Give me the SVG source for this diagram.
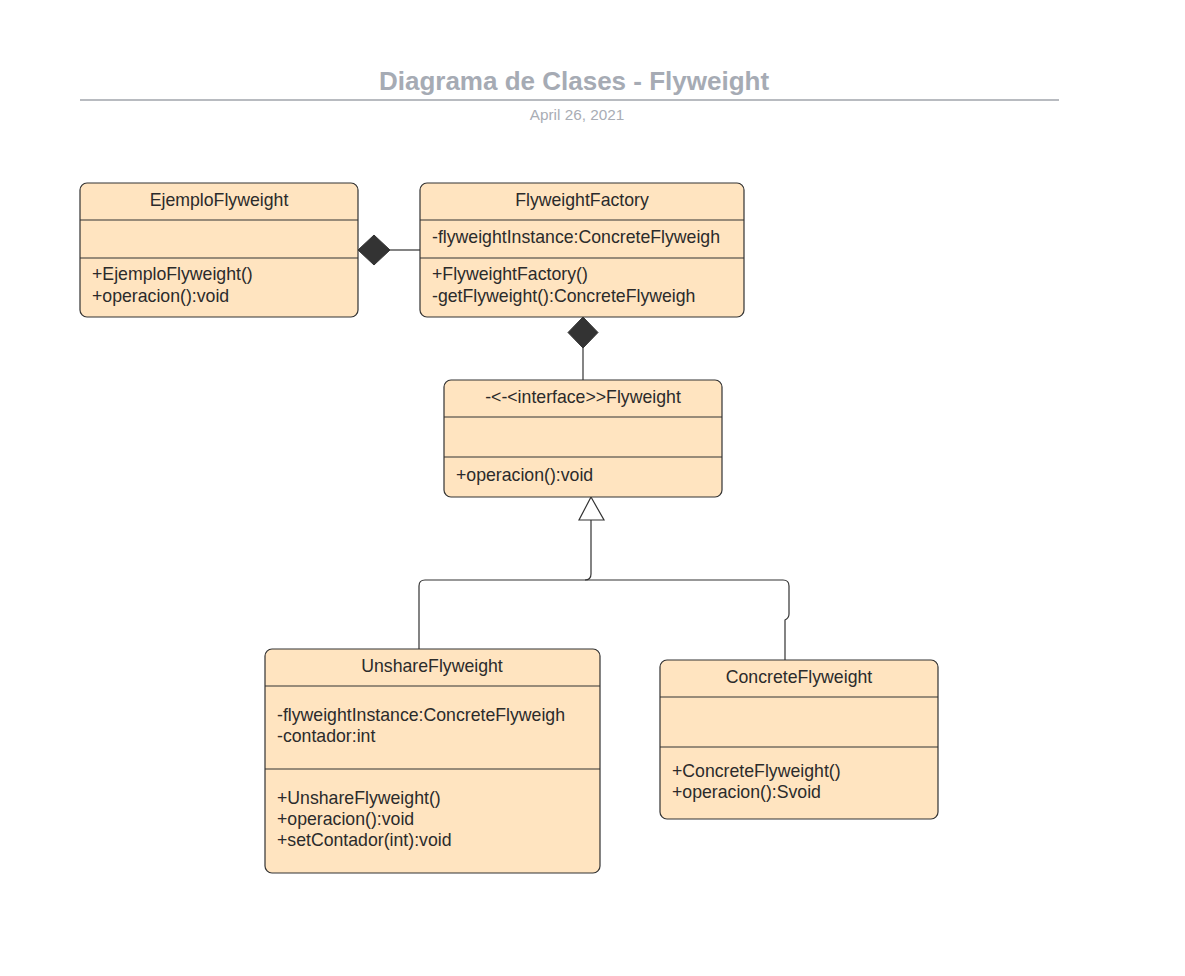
<svg xmlns="http://www.w3.org/2000/svg" width="1185" height="976" viewBox="0 0 1185 976">
<style>
.box{fill:#ffe4c0;stroke:#333;stroke-width:1.2}
.div{stroke:#333;stroke-width:1.2}
.t{font-family:"Liberation Sans",Arial,sans-serif;font-size:17.7px;fill:#2b2b2b}
.c{text-anchor:middle}
.ln{fill:none;stroke:#333;stroke-width:1.2}
</style>
<rect width="1185" height="976" fill="#fff"/>
<g id="header">
<text x="574" y="90" text-anchor="middle" font-family="Liberation Sans,Arial,sans-serif" font-weight="bold" font-size="26" fill="#a6abb4">Diagrama de Clases - Flyweight</text>
<line x1="80" y1="100" x2="1059" y2="100" stroke="#a0a4ab" stroke-width="1.6"/>
<text x="577" y="120" text-anchor="middle" font-family="Liberation Sans,Arial,sans-serif" font-size="15.3" fill="#a9adb5">April 26, 2021</text>
</g>
<g id="connectors">
<line class="ln" x1="390" y1="250" x2="420" y2="250"/>
<polygon points="358,250 374,235 390,250 374,265" fill="#333" stroke="#333"/>
<line class="ln" x1="583" y1="348" x2="583" y2="380"/>
<polygon points="583,317 598,332.5 583,348 568,332.5" fill="#333" stroke="#333"/>
<path class="ln" d="M591,520 V574 Q591,580 585,580 H425 Q419,580 419,586 V649"/>
<path class="ln" d="M585,580 H783 Q789,580 789,586 V614 Q789,618 785,620 V660"/>
<polygon points="591,497 604,520 579,520" fill="#fff" stroke="#333" stroke-width="1.2"/>
</g>
<g id="EjemploFlyweight">
<rect class="box" x="80" y="183" width="278" height="134" rx="7"/>
<line class="div" x1="80" y1="220" x2="358" y2="220"/>
<line class="div" x1="80" y1="258" x2="358" y2="258"/>
<text class="t c" x="219" y="206">EjemploFlyweight</text>
<text class="t" x="92" y="280">+EjemploFlyweight()</text>
<text class="t" x="92" y="302">+operacion():void</text>
</g>
<g id="FlyweightFactory">
<rect class="box" x="420" y="183" width="324" height="134" rx="7"/>
<line class="div" x1="420" y1="220" x2="744" y2="220"/>
<line class="div" x1="420" y1="258" x2="744" y2="258"/>
<text class="t c" x="582" y="206">FlyweightFactory</text>
<text class="t" x="432" y="243">-flyweightInstance:ConcreteFlyweigh</text>
<text class="t" x="432" y="280">+FlyweightFactory()</text>
<text class="t" x="432" y="302">-getFlyweight():ConcreteFlyweigh</text>
</g>
<g id="Flyweight">
<rect class="box" x="444" y="380" width="278" height="117" rx="7"/>
<line class="div" x1="444" y1="417" x2="722" y2="417"/>
<line class="div" x1="444" y1="457" x2="722" y2="457"/>
<text class="t c" x="583" y="403">-&lt;-&lt;interface&gt;&gt;Flyweight</text>
<text class="t" x="456" y="481">+operacion():void</text>
</g>
<g id="UnshareFlyweight">
<rect class="box" x="265" y="649" width="335" height="224" rx="7"/>
<line class="div" x1="265" y1="686" x2="600" y2="686"/>
<line class="div" x1="265" y1="769" x2="600" y2="769"/>
<text class="t c" x="432" y="672">UnshareFlyweight</text>
<text class="t" x="277" y="721">-flyweightInstance:ConcreteFlyweigh</text>
<text class="t" x="277" y="742">-contador:int</text>
<text class="t" x="277" y="804">+UnshareFlyweight()</text>
<text class="t" x="277" y="825">+operacion():void</text>
<text class="t" x="277" y="846">+setContador(int):void</text>
</g>
<g id="ConcreteFlyweight">
<rect class="box" x="660" y="660" width="278" height="159" rx="7"/>
<line class="div" x1="660" y1="697" x2="938" y2="697"/>
<line class="div" x1="660" y1="747" x2="938" y2="747"/>
<text class="t c" x="799" y="683">ConcreteFlyweight</text>
<text class="t" x="672" y="777">+ConcreteFlyweight()</text>
<text class="t" x="672" y="798">+operacion():Svoid</text>
</g>
</svg>
